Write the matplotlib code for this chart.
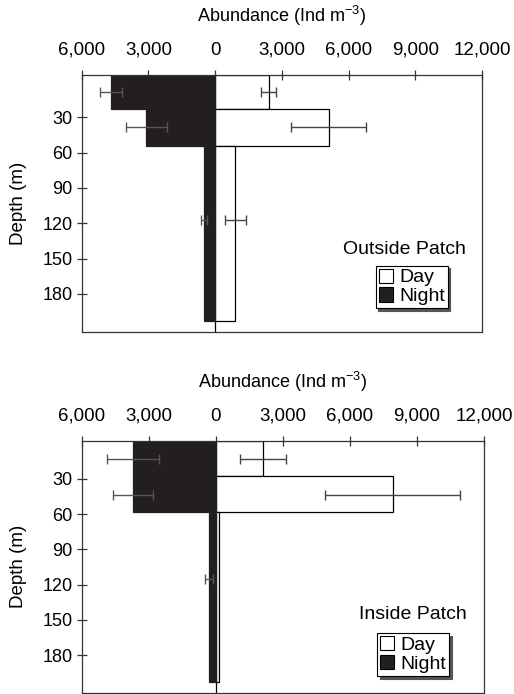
import matplotlib.pyplot as plt
from matplotlib.patches import Patch
from matplotlib.ticker import FuncFormatter

plt.rcParams['font.family'] = ['Liberation Sans', 'DejaVu Sans']
plt.rcParams['mathtext.default'] = 'regular'

# depth bins (m) and abundances (Ind m-3)
out_top = [-6, 23, 54]
out_bottom = [23, 54, 203]
out_day = [2400, 5100, 900]
out_day_err = [340, 1700, 480]
out_night = [4700, 3100, 500]
out_night_err = [500, 920, 150]
out_err_depth = [8.5, 38, 117]

in_top = [-2.3, 28, 58.5]
in_bottom = [28, 58.5, 202.5]
in_day = [2100, 7900, 160]
in_day_err = [1035, 3000, 0]
in_night = [3700, 3700, 300]
in_night_err = [1170, 890, 170]
in_err_depth = [13, 43.5, 115.5]

x_ticks = [-6000, -3000, 0, 3000, 6000, 9000, 12000]
y_ticks = [30, 60, 90, 120, 150, 180]

fig = plt.figure(figsize=(5.14, 6.94), dpi=100)
ax1 = fig.add_axes([0.159, 0.5216, 0.779, 0.3708])
ax2 = fig.add_axes([0.159, 0.0019, 0.783, 0.3631])


def draw_panel(ax, top, bottom, day, day_err, night, night_err, err_depth,
               ylim_top, ylim_bottom, title, leg_xy, title_xy):
    heights = [b - t for t, b in zip(top, bottom)]
    centers = [(t + b) / 2 for t, b in zip(top, bottom)]
    ax.barh(centers, day, height=heights, color='white', edgecolor='black',
            linewidth=0.9, zorder=2)
    ax.barh(centers, [-v for v in night], height=heights, color='#231f20',
            edgecolor='#231f20', linewidth=0.9, zorder=2)
    ax.axvline(0, color='black', lw=0.9, zorder=1)

    for v, e, d in zip(day, day_err, err_depth):
        if e > 0:
            ax.errorbar(v, d, xerr=e, fmt='none', ecolor='#444444', elinewidth=1,
                        capsize=3.5, capthick=1, zorder=3)
    for v, e, d in zip(night, night_err, err_depth):
        if e > 0:
            ax.errorbar(-v, d, xerr=e, fmt='none', ecolor='#555555', elinewidth=1,
                        capsize=3.5, capthick=1, zorder=3)

    ax.set_xlim(-6000, 12000)
    ax.set_ylim(ylim_bottom, ylim_top)
    ax.xaxis.tick_top()
    ax.xaxis.set_label_position('top')
    ax.set_xticks(x_ticks)
    ax.xaxis.set_major_formatter(FuncFormatter(lambda v, p: f'{abs(int(v)):,}'))
    ax.set_yticks(y_ticks)
    ax.tick_params(axis='both', direction='inout', length=7, width=0.9,
                   color='#333333', labelsize=13.5)
    ax.tick_params(axis='x', pad=8)
    ax.tick_params(axis='y', pad=3, labelsize=13)
    ax.set_xlabel(r'Abundance (Ind m$^{-3}$)', fontsize=13, labelpad=14)
    ax.set_ylabel('Depth (m)', fontsize=13.5, labelpad=11)
    for s in ax.spines.values():
        s.set_color('#333333')
        s.set_linewidth(0.9)

    ax.text(title_xy[0], title_xy[1], title, transform=ax.transAxes,
            ha='center', va='center', fontsize=14)
    handles = [Patch(facecolor='white', edgecolor='black', lw=0.8, label='Day'),
               Patch(facecolor='#231f20', edgecolor='black', lw=0.8, label='Night')]
    leg = ax.legend(handles=handles, loc='upper left', bbox_to_anchor=leg_xy,
                    borderaxespad=0, fontsize=14, frameon=True, fancybox=False,
                    shadow={'color': '#555555', 'alpha': 1},
                    handlelength=0.75, handleheight=0.75, handletextpad=0.3,
                    labelspacing=0.05, borderpad=0.15)
    leg.get_frame().set_edgecolor('black')
    leg.get_frame().set_linewidth(0.8)


draw_panel(ax1, out_top, out_bottom, out_day, out_day_err, out_night,
           out_night_err, out_err_depth, -6.2, 212.4, 'Outside Patch',
           (0.734, 0.258), (0.807, 0.3187))
draw_panel(ax2, in_top, in_bottom, in_day, in_day_err, in_night,
           in_night_err, in_err_depth, -2.3, 211.8, 'Inside Patch',
           (0.733, 0.2357), (0.8226, 0.3083))

fig.savefig('out.png', dpi=100)
